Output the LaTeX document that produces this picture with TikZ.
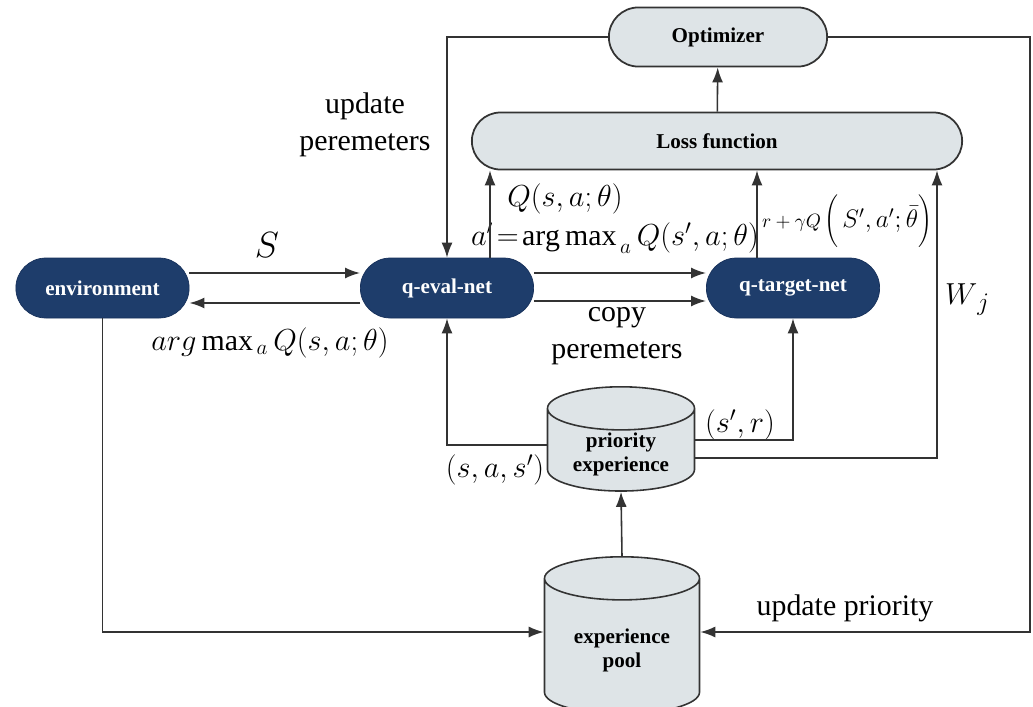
\documentclass[tikz,border=0pt]{standalone}
\usepackage{fontspec}
\setmainfont{Liberation Serif}
\usetikzlibrary{positioning,arrows.meta,shapes.geometric,shapes.misc}
\definecolor{rlazul}{HTML}{1E3D6B}
\definecolor{rlazulborda}{HTML}{16305A}
\definecolor{rlcinza}{HTML}{DEE4E7}
\definecolor{rltraco}{HTML}{333333}
\tikzset{
  rlescuro/.style={rounded rectangle, draw=rlazulborda, fill=rlazul, text=white,
                  font=\fontsize{12}{14}\selectfont\bfseries, minimum width=3.7cm, minimum height=1.2cm},
  rlclaro/.style={rounded rectangle, draw=rltraco, line width=1pt, fill=rlcinza,
                  font=\fontsize{12}{14}\selectfont\bfseries, minimum height=1.14cm},
  rlbanco/.style={cylinder, shape border rotate=90, draw=rltraco, line width=0.9pt, fill=rlcinza,
                  align=center, inner ysep=1pt, anchor=north, font=\fontsize{12}{14}\selectfont\bfseries},
  rlseta/.style={-{Latex[length=3mm,width=2.2mm]}, line width=0.9pt, draw=rltraco},
  rlrotulo/.style={font=\fontsize{17}{21}\selectfont, align=center, inner sep=1pt},
}

\begin{document}
\begin{tikzpicture}
    \useasboundingbox (0,0) rectangle (20.66,-14.14);
    % ---------------- blocos ----------------
    \node[rlclaro, minimum width=4.6cm, inner ysep=0.4cm] (opt) at (14.36,-0.74) {Optimizer};
    \node[rlclaro, minimum width=10.04cm] (loss) at (14.34,-2.82) {Loss function};
    \node[rlescuro] (env) at (2.05,-5.76) {environment};
    \node[rlescuro] (qeval) at (8.94,-5.76) {q-eval-net};
    \node[rlescuro] (qtarget) at (15.86,-5.76) {q-target-net};
    \node[rlbanco, minimum width=2.94cm, minimum height=2.06cm, aspect=0.4] (pe) at (12.42,-7.72) {priority\\experience};
    \node[rlbanco, minimum width=3.1cm, minimum height=3.14cm, aspect=0.4] (pool) at (12.44,-11.12) {experience\\pool};
    % ---------------- pontos de apoio ----------------
    \coordinate (dir) at (20.6,-0.74);
    \coordinate (wj) at (18.74,-9.16);
    \coordinate (ypeesq) at (0,-8.9);
    \coordinate (ypedir) at (0,-8.8);
    \coordinate (ypool) at (0,-12.64);
    % ---------------- rotulos ----------------
    \node[rlrotulo] at (7.3,-2.5) {update\\peremeters};
    \node[rlrotulo, font=\fontsize{20}{22}\selectfont] at (5.34,-4.9) {$S$};
    \node[rlrotulo] at (5.4,-6.85) {$arg\max\nolimits_{\,a} Q(s,a;\theta)$};
    \node[rlrotulo] at (12.34,-6.72) {copy\\peremeters};
    \node[rlrotulo] at (11.3,-3.98) {$Q(s,a;\theta)$};
    \node[rlrotulo, anchor=west] at (9.38,-4.76) {$a'\!=\!\mathrm{arg\,max}_{\,a}\, Q(s',a;\theta)$};
    \node[rlrotulo, font=\fontsize{11}{13}\selectfont, anchor=west] at (15.2,-4.42)
        {$r+\gamma Q$\,{\fontsize{14}{16}\selectfont$\left(\,S',a';\bar{\theta}\vphantom{\Bigg|}\right)$}};
    \node[rlrotulo, font=\fontsize{19}{21}\selectfont] at (19.35,-6.0) {$W_{\,j}$};
    \node[rlrotulo] at (14.8,-8.5) {$(s',r)$};
    \node[rlrotulo] at (9.9,-9.4) {$(s,a,s')$};
    \node[rlrotulo] at (16.9,-12.16) {update priority};
    % ---------------- setas ----------------
    \draw[rlseta] (loss) -- (opt);
    \draw[rlseta] (opt.west) -| (qeval.north);
    \draw[rlseta] (opt.east) -- (dir) |- (pool.east |- ypool);
    \draw[rlseta] ([yshift=3mm]env.east) -- ([yshift=3mm]qeval.west);
    \draw[rlseta] ([yshift=-3mm]qeval.west) -- ([yshift=-3mm]env.east);
    \draw[rlseta] ([yshift=3mm]qeval.east) -- ([yshift=3mm]qtarget.west);
    \draw[rlseta] ([yshift=-2.6mm]qeval.east) -- ([yshift=-2.6mm]qtarget.west);
    \draw[rlseta] ([xshift=8.6mm]qeval.north) -- ([xshift=8.6mm]qeval.north |- loss.south);
    \draw[rlseta] ([xshift=-7.2mm]qtarget.north) -- ([xshift=-7.2mm]qtarget.north |- loss.south);
    \draw[rlseta] (pe.east |- wj) -- (wj) -- (wj |- loss.south);
    \draw[rlseta] (pe.east |- ypedir) -| (qtarget.south);
    \draw[rlseta] (pe.west |- ypeesq) -| (qeval.south);
    \draw[rlseta] (pool.north) -- (pe.south);
    \draw[rlseta] (env.south) |- (pool.west |- ypool);
\end{tikzpicture}
\end{document}
